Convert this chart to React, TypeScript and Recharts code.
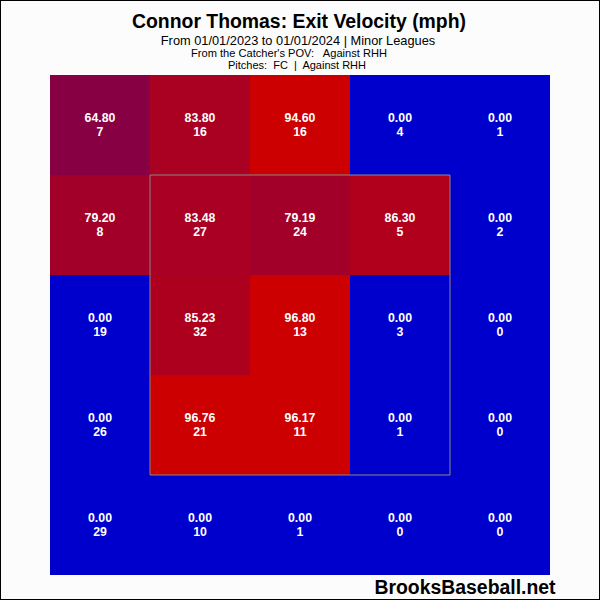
import React from 'react';
import { ScatterChart, Scatter, XAxis, YAxis, ReferenceArea } from 'recharts';

const rows = [0, 1, 2, 3, 4];
const cols = [0, 1, 2, 3, 4];
const velocities: number[][] = [
  [64.8, 83.8, 94.6, 0, 0],
  [79.2, 83.48, 79.19, 86.3, 0],
  [0, 85.23, 96.8, 0, 0],
  [0, 96.76, 96.17, 0, 0],
  [0, 0, 0, 0, 0],
];
const counts: number[][] = [
  [7, 16, 16, 4, 1],
  [8, 27, 24, 5, 2],
  [19, 32, 13, 3, 0],
  [26, 21, 11, 1, 0],
  [29, 10, 1, 0, 0],
];
const title = 'Connor Thomas: Exit Velocity (mph)';
const subtitle1 = 'From 01/01/2023 to 01/01/2024 | Minor Leagues';
const subtitle2 = "From the Catcher's POV:   Against RHH";
const subtitle3 = 'Pitches:  FC  |  Against RHH';
const footer = 'BrooksBaseball.net';

const stops: [number, number[]][] = [
  [65, [0x88, 0x00, 0x44]],
  [79.2, [0xa2, 0x00, 0x28]],
  [84, [0xaa, 0x00, 0x22]],
  [86.3, [0xb0, 0x00, 0x1c]],
  [94.6, [0xcc, 0x00, 0x00]],
];
function colorFor(v: number): string {
  if (v <= 0) return '#0000cc';
  let c = stops[0][1];
  if (v >= stops[stops.length - 1][0]) c = stops[stops.length - 1][1];
  else {
    for (let i = 0; i < stops.length - 1; i++) {
      const [a, ca] = stops[i];
      const [b, cb] = stops[i + 1];
      if (v >= a && v <= b) {
        const t = (v - a) / (b - a);
        c = ca.map((x, k) => Math.round(x + (cb[k] - x) * t));
        break;
      }
    }
  }
  return `rgb(${c[0]},${c[1]},${c[2]})`;
}

const cells = rows.flatMap((r) =>
  cols.map((c) => ({ x: c + 0.5, y: r + 0.5, r, c, v: velocities[r][c], n: counts[r][c] }))
);

const FONT = '"Liberation Sans", Arial, sans-serif';

const CellLabel = (props: any) => {
  const { cx, cy, payload } = props;
  if (cx == null || cy == null) return null;
  return (
    <g>
      <text x={cx} y={cy - 3} textAnchor="middle" fill="#ffffff" fontFamily={FONT} fontWeight="bold" fontSize={12.3}>
        {payload.v.toFixed(2)}
      </text>
      <text x={cx} y={cy + 11} textAnchor="middle" fill="#ffffff" fontFamily={FONT} fontWeight="bold" fontSize={12.3}>
        {payload.n}
      </text>
    </g>
  );
};

export default function App() {
  return (
    <div style={{ position: 'absolute', left: 0, top: 0, width: 600, height: 600, background: '#fcfcfc' }}>
      <ScatterChart width={600} height={600} margin={{ top: 75, right: 50, bottom: 25, left: 50 }}>
        <XAxis type="number" dataKey="x" domain={[0, 5]} hide allowDataOverflow />
        <YAxis type="number" dataKey="y" domain={[0, 5]} reversed hide allowDataOverflow />
        {cells.map((d) => (
          <ReferenceArea
            key={`${d.r}-${d.c}`}
            x1={d.c}
            x2={d.c + 1}
            y1={d.r}
            y2={d.r + 1}
            fill={colorFor(d.v)}
            fillOpacity={1}
            stroke="none"
            ifOverflow="visible"
          />
        ))}
        <ReferenceArea x1={1} x2={4} y1={1} y2={4} fill="none" stroke="#888888" strokeWidth={1} ifOverflow="visible" />
        <Scatter data={cells} shape={<CellLabel />} isAnimationActive={false} />
      </ScatterChart>
      <svg width={600} height={600} style={{ position: 'absolute', left: 0, top: 0, pointerEvents: 'none' }}>
        <text x={299} y={28} textAnchor="middle" fontFamily={FONT} fontWeight="bold" fontSize={19.4} fill="#000">{title}</text>
        <text x={298} y={45} textAnchor="middle" fontFamily={FONT} fontSize={12.8} fill="#000">{subtitle1}</text>
        <text x={289} y={57} textAnchor="middle" fontFamily={FONT} fontSize={11.1} fill="#000" style={{ whiteSpace: 'pre' }}>{subtitle2}</text>
        <text x={297} y={69} textAnchor="middle" fontFamily={FONT} fontSize={11} fill="#000" style={{ whiteSpace: 'pre' }}>{subtitle3}</text>
        <text x={465} y={594} textAnchor="middle" fontFamily={FONT} fontWeight="bold" fontSize={19.4} fill="#000">{footer}</text>
        <rect x={0.5} y={0.5} width={599} height={599} fill="none" stroke="#000" strokeWidth={1} />
      </svg>
    </div>
  );
}
